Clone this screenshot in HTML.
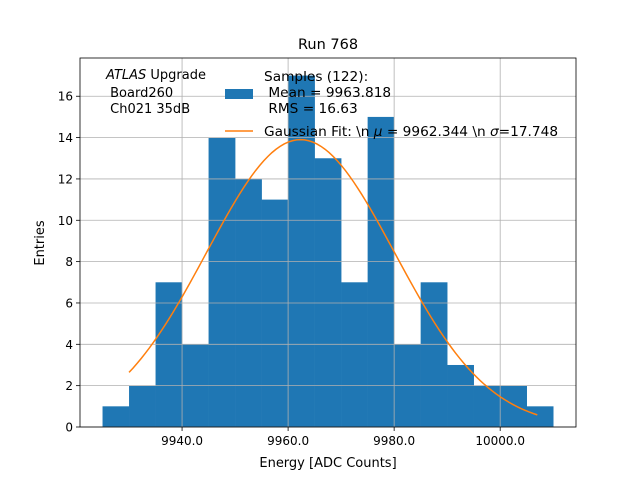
<!DOCTYPE html>
<html><head><meta charset="utf-8"><style>
body{margin:0;background:#fff;font-family:"Liberation Sans","DejaVu Sans",sans-serif;}
svg text{font-family:"DejaVu Sans","Liberation Sans",sans-serif;white-space:pre;}
</style></head><body>
<svg id="chart" width="640" height="480" xmlns="http://www.w3.org/2000/svg">
<rect width="640" height="480" fill="#fff"/>
<g id="bars"></g>
<g id="grid"></g>
<path id="fit" fill="none" stroke="#ff7f0e" stroke-width="1.5"/>
<rect x="80" y="58" width="496" height="369" fill="none" stroke="#000" stroke-width="0.8"/>
<g id="ticks"></g>
<text x="328" y="49" font-size="14.5" text-anchor="middle">Run 768</text>
<text x="328" y="467" font-size="13" text-anchor="middle">Energy [ADC Counts]</text>
<text x="44" y="243" font-size="13" text-anchor="middle" transform="rotate(-90 44 243)">Entries</text>
<g font-size="13">
<text x="106" y="79"><tspan font-style="italic">ATLAS</tspan> Upgrade</text>
<text x="106" y="97"> Board260</text>
<text x="106" y="113"> Ch021 35dB</text>
</g>
<g font-size="13.7">
<rect x="225" y="89" width="28" height="10" fill="#1f77b4"/>
<text x="264" y="81">Samples (122):</text>
<text x="264" y="97"> Mean = 9963.818</text>
<text x="264" y="113"> RMS = 16.63</text>
<line x1="225" y1="131" x2="253" y2="131" stroke="#ff7f0e" stroke-width="1.5"/>
<text x="264" y="136">Gaussian Fit: \n <tspan font-style="italic">μ</tspan> = 9962.344 \n <tspan font-style="italic">σ</tspan>=17.748</text>
</g>
</svg>
<script>
const binEdgesStart = [9925,9930,9935,9940,9945,9950,9955,9960,9965,9970,9975,9980,9985,9990,9995,10000,10005];
const binCounts = [1,2,7,4,14,12,11,17,13,7,15,4,7,3,2,2,1];
const binWidth = 5;
const fitMu = 9962.344, fitSigma = 17.748, fitAmp = 13.9;
const fitRange = [9930, 10007];
const xTicks = [9940,9960,9980,10000];
const xTickLabels = ["9940.0","9960.0","9980.0","10000.0"];
const yTicks = [0,2,4,6,8,10,12,14,16];

const X0=9920.75, X1=10014.3, Y0=0, Y1=17.85;
const L=80,R=576,T=58,B=427;
const sx=v=>L+(v-X0)/(X1-X0)*(R-L);
const sy=v=>B-(v-Y0)/(Y1-Y0)*(B-T);
const NS="http://www.w3.org/2000/svg";
function mk(tag,attrs,parent){const e=document.createElementNS(NS,tag);for(const k in attrs)e.setAttribute(k,attrs[k]);parent.appendChild(e);return e;}
const bars=document.getElementById('bars'),grid=document.getElementById('grid'),ticks=document.getElementById('ticks');
binCounts.forEach((c,i)=>{
  const x=sx(binEdgesStart[i]),w=sx(binEdgesStart[i]+binWidth)-x;
  const r=mk('rect',{x:x,y:sy(c),width:w+0.3,height:sy(0)-sy(c),fill:'#1f77b4'},bars);
  
  
});
xTicks.forEach((v,i)=>{
  const x=sx(v);
  const g=mk('line',{x1:x,x2:x,y1:T,y2:B,stroke:'#b0b0b0','stroke-width':0.8},grid);
  
  
  mk('line',{x1:x,x2:x,y1:B,y2:B+4,stroke:'#000','stroke-width':0.8},ticks);
  const t=mk('text',{x:x,y:B+18,'font-size':12,'text-anchor':'middle'},ticks);
  t.textContent=xTickLabels[i];
  
  
});
yTicks.forEach(v=>{
  const y=sy(v);
  const g=mk('line',{x1:L,x2:R,y1:y,y2:y,stroke:'#b0b0b0','stroke-width':0.8},grid);
  
  
  mk('line',{x1:L-4,x2:L,y1:y,y2:y,stroke:'#000','stroke-width':0.8},ticks);
  const t=mk('text',{x:L-7,y:y+4.5,'font-size':12,'text-anchor':'end'},ticks);
  t.textContent=String(v);
  
  
});
let d='';
for(let k=0;k<=100;k++){
  const v=fitRange[0]+(fitRange[1]-fitRange[0])*k/100;
  const f=fitAmp*Math.exp(-Math.pow(v-fitMu,2)/(2*fitSigma*fitSigma));
  d+=(k?'L':'M')+sx(v).toFixed(2)+','+sy(f).toFixed(2);
}
document.getElementById('fit').setAttribute('d',d);
</script>
</body></html>
